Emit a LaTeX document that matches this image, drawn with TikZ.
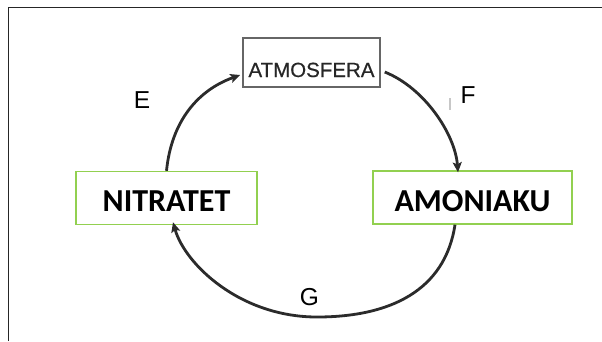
\documentclass[tikz,border=0pt]{standalone}
\usepackage{fontspec}
\setmainfont{Liberation Sans}
\newfontfamily\calib{Carlito}
\usetikzlibrary{arrows.meta}
\definecolor{boxgreen}{HTML}{92D050}
\definecolor{cycleline}{HTML}{2B2B2B}
\definecolor{atmtext}{HTML}{262626}
\tikzset{
  greenbox/.style={draw=boxgreen, line width=1.4pt, inner sep=0pt,
    minimum height=53pt, font=\calib\bfseries\fontsize{32}{33}\selectfont,
    text depth=0pt},
  atmbox/.style={draw=gray!80!black, line width=1.5pt, inner sep=0pt,
    minimum width=137pt, minimum height=49pt, text=atmtext,
    font=\fontsize{20.5}{22}\selectfont, text height=29pt, text depth=0pt},
  cycle/.style={draw=cycleline, line width=2.8pt,
    -{Stealth[length=10pt, width=9pt, inset=2pt]}},
  steplabel/.style={anchor=base, inner sep=0pt, font=\fontsize{24.5}{26}\selectfont}
}
\begin{document}
\begin{tikzpicture}[x=1pt, y=-1pt]
  \useasboundingbox (0,0) rectangle (602,341);
  % outer frame (top and left edges)
  \draw[line width=1.2pt, black!85] (8.5,341) -- (8.5,7.5) -- (602,7.5);

  % stages of the cycle
  \node[atmbox] (atm) at (311.5,62.5) {\addfontfeatures{FakeBold=0.6}ATMOSFERA};
  \node[greenbox, minimum width=181pt, text height=26pt] (nit) at (166.5,198) {NITRATET};
  \node[greenbox, minimum width=199pt, text height=27pt] (amo) at (472.5,197.5) {AMONIAKU};

  % arrows between the stages
  \draw[cycle] (nit.north) .. controls ++(5,-50) and ++(-42,15) .. ([xshift=-2pt, yshift=-12.5pt]atm.west);
  \draw[cycle] ([xshift=4pt, yshift=-9.5pt]atm.east) .. controls ++(40,16) and ++(-3,-38) .. ([xshift=-14.5pt, yshift=-2pt]amo.north);
  \coordinate (gbottom) at (317,317);
  \draw[cycle] ([xshift=-17.5pt]amo.south) .. controls ++(-10,66) and ++(73,0) .. (gbottom)
     .. controls ++(-77,0) and ++(12,42) .. ([xshift=6.5pt, yshift=3pt]nit.south);

  % small stray mark beside F
  \draw[line width=1.3pt, black!22] (450,98) -- (450,110);

  % labels of the steps
  \node[steplabel] (lE) at (142,108) {E};
  \node[steplabel] (lF) at (468,103) {F};
  \node[steplabel] (lG) at (309.5,305) {G};
\end{tikzpicture}
\end{document}
